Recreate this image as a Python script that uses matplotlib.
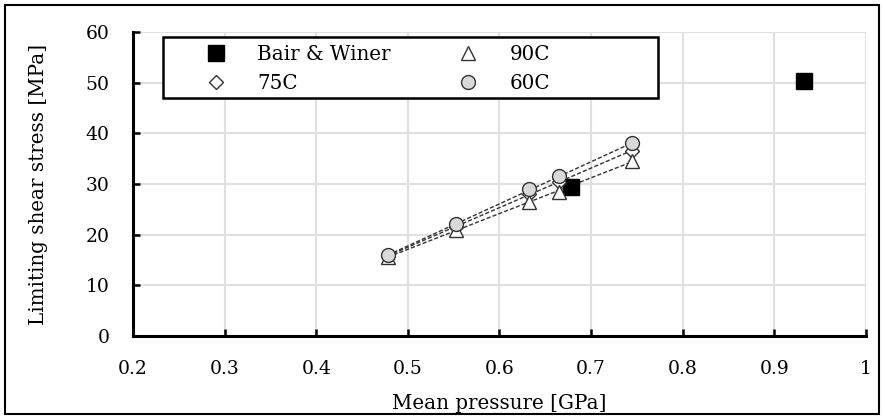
import matplotlib.pyplot as plt
import numpy as np

# data
p_bw = [0.678, 0.932]
tau_bw = [29.5, 50.3]

p_t = [0.478, 0.553, 0.632, 0.665, 0.745]
tau_90 = [15.5, 21.0, 26.5, 28.5, 34.5]
tau_75 = [15.8, 21.6, 28.0, 30.4, 36.6]
tau_60 = [15.9, 22.1, 29.0, 31.5, 38.0]

labels = ['Bair & Winer', '75C', '90C', '60C']

plt.rcParams['font.family'] = ['DejaVu Serif']
plt.rcParams['font.size'] = 14.3

W, H = 883, 418
fig = plt.figure(figsize=(W/100, H/100), dpi=100)
ax = fig.add_axes([133/W, (H-336)/H, 733/W, 304/H])

# trendlines
for tau in (tau_90, tau_75, tau_60):
    k, d = np.polyfit(p_t, tau, 1)
    xx = np.array([p_t[0], p_t[-1]])
    ax.plot(xx, k*xx + d, color='0.2', linestyle=(0, (3, 1.5)), lw=1.0, zorder=2)

h1, = ax.plot(p_bw, tau_bw, 's', ms=12, color='k', zorder=3)
h2, = ax.plot(p_t, tau_75, 'D', ms=7, mfc='white', mec='0.2', mew=1.0, zorder=3)
h3, = ax.plot(p_t, tau_90, '^', ms=10, mfc='white', mec='0.2', mew=1.0, zorder=3)
h4, = ax.plot(p_t, tau_60, 'o', ms=10, mfc='0.85', mec='0.2', mew=1.0, zorder=4)

ax.set_xlim(0.2, 1.0)
ax.set_ylim(0, 60)
ax.set_xticks(np.arange(0.2, 1.01, 0.1))
ax.set_xticklabels(['0.2', '0.3', '0.4', '0.5', '0.6', '0.7', '0.8', '0.9', '1'])
ax.set_yticks(np.arange(0, 61, 10))
ax.grid(True, color='0.88', lw=1.5)
ax.set_axisbelow(True)
for s in ('top', 'right'):
    ax.spines[s].set_visible(False)
for s in ('left', 'bottom'):
    ax.spines[s].set_linewidth(2.2)
ax.tick_params(direction='in', length=5, width=1.8, labelsize=13.5)
ax.tick_params(axis='x', pad=17)
ax.tick_params(axis='y', pad=17)

ax.set_xlabel('Mean pressure [GPa]', labelpad=12)
ax.set_ylabel('Limiting shear stress [MPa]', labelpad=27)

# legend: entries without frame, box drawn separately (wider than content)
leg = fig.legend([h1, h2, h3, h4], labels, ncol=2, loc='upper left',
                 bbox_to_anchor=(168/W, (H-33)/H), frameon=False,
                 borderpad=0.1, handlelength=3.6, handletextpad=0.3,
                 columnspacing=2.1, labelspacing=0.5)
fig.patches.append(plt.Rectangle((163/W, (H-98)/H), 495/W, 61/H,
                                 transform=fig.transFigure, fill=True,
                                 facecolor='white', edgecolor='k', lw=1.8, zorder=5))
leg.set_zorder(6)

fig.patches.append(plt.Rectangle((5/W, 4/H), (W-9)/W, (H-9)/H, transform=fig.transFigure,
                                 fill=False, edgecolor='k', lw=1.5))

fig.savefig('out.png', dpi=100)
